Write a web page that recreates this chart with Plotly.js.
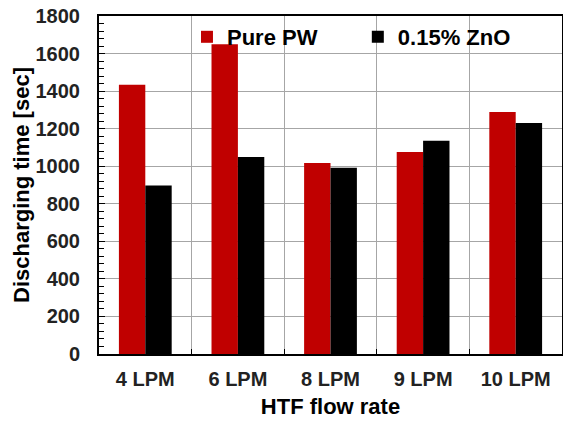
<!DOCTYPE html>
<html>
<head>
<meta charset="utf-8">
<script src="https://cdn.plot.ly/plotly-3.0.1.min.js"></script>
<style>html,body{margin:0;padding:0;background:#fff;}#chart{width:563px;height:423px;}</style>
</head>
<body>
<div id="chart"></div>
<script>
const categories = ["4 LPM", "6 LPM", "8 LPM", "9 LPM", "10 LPM"];
const purePW = [1434, 1649, 1017, 1076, 1289];
const zno015 = [898, 1049, 992, 1136, 1230];
const seriesNames = ["Pure PW", "0.15% ZnO"];

const FONT = "Liberation Sans, Arial, sans-serif";

const traces = [
  {type: "bar", name: seriesNames[0], x: categories, y: purePW, marker: {color: "#c00000"}, legend: "legend"},
  {type: "bar", name: seriesNames[1], x: categories, y: zno015, marker: {color: "#000000"}, legend: "legend2"}
];

const legendFont = {family: FONT, size: 22, weight: "bold", color: "#000"};

const layout = {
  width: 563, height: 423,
  margin: {l: 99, r: 1, t: 16, b: 69, pad: 0},
  paper_bgcolor: "#ffffff", plot_bgcolor: "#ffffff",
  font: {family: FONT, color: "#000", size: 20, weight: "bold"},
  barmode: "group", bargap: 0.43, bargroupgap: 0,
  showlegend: true,
  legend: {orientation: "h", x: 0.19, xanchor: "left", y: 1.0, yanchor: "top",
           bgcolor: "rgba(0,0,0,0)", font: legendFont, itemwidth: 30},
  legend2: {orientation: "h", x: 0.559, xanchor: "left", y: 1.0, yanchor: "top",
           bgcolor: "rgba(0,0,0,0)", font: legendFont, itemwidth: 30},
  xaxis: {
    type: "category", tickson: "boundaries", showgrid: true, gridcolor: "#a6a6a6", gridwidth: 1,
    ticks: "inside", ticklen: 5, tickcolor: "#000", showline: true, linecolor: "#000", linewidth: 2, mirror: true,
    tickfont: {family: FONT, size: 20, weight: "bold", color: "#222"},
    title: {text: "HTF flow rate", font: {family: FONT, size: 22, weight: "bold", color: "#000"}, standoff: 10},
    zeroline: false, ticklabelstandoff: 6
  },
  yaxis: {
    range: [0, 1800], dtick: 200, tick0: 0, showgrid: true, gridcolor: "#a6a6a6", gridwidth: 1,
    ticks: "inside", ticklen: 6, tickcolor: "#000", showline: true, linecolor: "#000", linewidth: 2, mirror: true,
    minor: {dtick: 40, ticks: "inside", ticklen: 5, tickcolor: "#000", showgrid: false},
    tickfont: {family: FONT, size: 20, weight: "bold", color: "#222"},
    title: {text: "Discharging time [sec]", font: {family: FONT, size: 22, weight: "bold", color: "#000"}, standoff: 0},
    zeroline: false, ticklabelstandoff: 13
  }
};

Plotly.newPlot("chart", traces, layout, {displayModeBar: false, staticPlot: true});
</script>
</body>
</html>
